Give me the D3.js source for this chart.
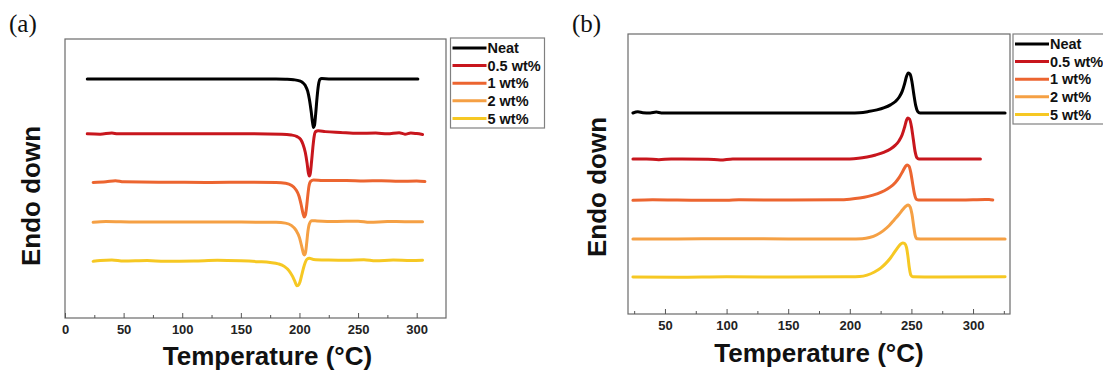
<!DOCTYPE html>
<html>
<head>
<meta charset="utf-8">
<script src="https://cdn.jsdelivr.net/npm/d3@7"></script>
<style>
  body { margin: 0; background: #fff; }
  svg { display: block; }
</style>
</head>
<body>
<script>
// DSC curves, two panels: (a) melting, (b) crystallization
const width = 1103;
const height = 374;

const seriesNames = ["Neat", "0.5 wt%", "1 wt%", "2 wt%", "5 wt%"];
const seriesColors = ["#000000", "#c8161d", "#ec6530", "#f5a044", "#f6c823"];

// x ticks
const majorTicksA = [0, 50, 100, 150, 200, 250, 300];
const minorTicksA = [25, 75, 125, 175, 225, 275];
const majorTicksB = [50, 100, 150, 200, 250, 300];
const minorTicksB = [25, 75, 125, 175, 225, 275, 325];

// panel (a) : [temperature, heat flow (a.u.)]
const neatA = [[19,85.7],[30,85.7],[60,85.7],[100,85.7],[150,85.7],[180,85.7],[188,85.6],[195,85.4],[200,85.0],[203,84.3],[205,83.3],[207,81.3],[208.5,78.3],[210,74],[211.2,70],[212,68.3],[212.8,69],[213.8,73],[215,79],[216.2,83.5],[217.5,85.5],[219,85.8],[225,85.7],[260,85.7],[301,85.7]];
const redA = [[19,66.0],[30,65.9],[40,66.3],[45,66.0],[80,66.0],[120,66.0],[160,66.0],[185,65.9],[193,65.6],[198,65],[201,64],[203,62.3],[205,59.3],[206.5,55.5],[207.6,52],[208.4,50.9],[209.3,52],[210.3,56],[211.4,61],[212.5,65],[213.8,66.8],[216,67.1],[222,66.8],[235,66.5],[250,66.2],[265,66.3],[275,66.0],[285,66.4],[290,65.9],[295,66.3],[300,66.1],[305,65.8]];
const orangeA = [[24,48.6],[35,48.8],[43,49.2],[50,48.8],[80,48.7],[120,48.6],[160,48.7],[180,48.6],[188,48.3],[193,47.6],[197,46],[199.5,43.8],[201.5,40.5],[203,37.5],[204,36.2],[205,36.8],[206,39.5],[207,43.5],[208,47],[209.5,49],[212,49.5],[220,49.3],[240,49.3],[255,49.1],[270,49.2],[285,49.0],[300,49.1],[307,48.9]];
const lightA = [[24,34.3],[35,34.6],[60,34.4],[100,34.4],[150,34.4],[180,34.3],[188,34.0],[193,33.2],[197,31.5],[200,28.8],[202,25.5],[203.5,23],[204.3,22.6],[205.2,23.5],[206.2,27],[207.2,31],[208.5,33.8],[210.5,34.9],[215,34.8],[230,34.6],[250,34.7],[260,34.3],[275,34.6],[290,34.5],[305,34.5]];
const yellowA = [[24,20.3],[30,20.6],[40,20.8],[50,20.4],[70,20.6],[85,20.3],[110,20.4],[130,20.7],[150,20.5],[165,20.2],[175,19.9],[182,19.4],[187,18.5],[191,17],[194,15],[196,13.2],[197.8,11.6],[199,11.7],[200.5,13],[202,15.5],[203.5,18],[205,20],[206.5,21.1],[208.5,21.4],[212,21.0],[225,20.8],[240,20.7],[255,20.9],[265,20.5],[280,20.8],[295,20.6],[305,20.7]];

// panel (b)
const neatB = [[24,71.8],[28,72.2],[32,71.9],[38,71.8],[43,72.1],[47,71.8],[80,71.8],[120,71.8],[160,71.8],[200,71.8],[208,71.9],[215,72.3],[222,72.9],[228,73.7],[233,74.7],[237,75.9],[240,77.4],[242.5,79.5],[244.5,82.3],[246,84.8],[247.5,86.1],[249,85.6],[250.5,82.8],[252,78.3],[253.5,74.4],[255,72.4],[257,71.8],[280,71.8],[326,71.8]];
const redB = [[24,55.4],[35,55.4],[45,55.1],[55,55.4],[85,55.3],[95,55.0],[105,55.4],[150,55.4],[200,55.4],[207,55.6],[214,56.1],[221,56.8],[228,57.8],[233,58.9],[237,60.3],[240,61.9],[242.5,64],[244.5,66.8],[246,69.2],[247,70],[248.5,69.6],[250,67],[251.5,62.5],[253,58],[254.5,55.8],[256,55.4],[280,55.4],[306,55.4]];
const orangeB = [[24,40.6],[40,40.8],[60,40.7],[100,40.6],[110,40.8],[150,40.7],[190,40.8],[200,41.0],[208,41.4],[215,42.0],[222,42.9],[228,44.0],[233,45.4],[237,47.0],[240,48.7],[243,51],[245,52.6],[246.5,53.2],[248,52.8],[249.5,50.5],[251,46.5],[252.5,42.8],[254,41.0],[256,40.7],[290,40.7],[310,40.9],[313,40.9],[316,40.7]];
const lightB = [[24,26.8],[60,26.8],[100,26.9],[150,26.8],[200,26.8],[210,26.9],[216,27.3],[222,28.3],[227,29.7],[232,31.6],[236,33.6],[240,35.6],[243,37.3],[245.5,38.5],[247.5,38.9],[249,38.2],[250.5,35.5],[251.8,31.5],[253,28.2],[254.5,26.9],[260,26.8],[326,26.8]];
const yellowB = [[24,13.2],[60,13.1],[100,13.3],[150,13.2],[200,13.3],[208,13.4],[214,13.9],[220,15.0],[225,16.4],[229,18.0],[233,20.0],[236,21.9],[239,23.8],[241,24.9],[243,25.4],[244.5,25.2],[246,23.8],[247.2,20.5],[248.3,16.5],[249.5,13.9],[251,13.3],[270,13.2],[326,13.3]];

const svg = d3.select("body").append("svg")
    .attr("width", width)
    .attr("height", height);

function drawPanel(p) {
    const x = d3.scaleLinear().domain(p.xDomain).range([p.left, p.right]);
    const y = d3.scaleLinear().domain([0, 100]).range([p.bottom, p.top]);

    const g = svg.append("g");

    // curves
    const line = d3.line()
        .x(d => x(d[0]))
        .y(d => y(d[1]))
        .curve(d3.curveMonotoneX);

    p.curves.forEach((c, i) => {
        g.append("path")
            .datum(c)
            .attr("fill", "none")
            .attr("stroke", seriesColors[i])
            .attr("stroke-width", 3)
            .attr("stroke-linejoin", "round")
            .attr("stroke-linecap", "round")
            .attr("d", line);
    });

    // frame
    g.append("rect")
        .attr("x", p.left).attr("y", p.top)
        .attr("width", p.right - p.left).attr("height", p.bottom - p.top)
        .attr("fill", "none")
        .attr("stroke", "#6a6a6a")
        .attr("stroke-width", 1.2);

    // x axis, ticks pointing inward
    g.append("g")
        .attr("transform", `translate(0,${p.bottom})`)
        .call(d3.axisBottom(x).tickValues(p.major).tickSize(-5).tickPadding(p.pad))
        .call(a => a.select(".domain").remove())
        .call(a => a.selectAll(".tick line").attr("stroke", "#555"))
        .call(a => a.selectAll(".tick text")
            .attr("font-family", "Arial, 'Liberation Sans', sans-serif")
            .attr("font-weight", "bold")
            .attr("font-size", 13)
            .attr("fill", "#222"));

    g.append("g")
        .attr("transform", `translate(0,${p.bottom})`)
        .call(d3.axisBottom(x).tickValues(p.minor).tickSize(-3).tickFormat(""))
        .call(a => a.select(".domain").remove())
        .call(a => a.selectAll(".tick line").attr("stroke", "#555"));

    // axis titles
    g.append("text")
        .attr("x", (p.left + p.right) / 2 + p.xTitleShift)
        .attr("y", p.xTitleY)
        .attr("text-anchor", "middle")
        .attr("font-family", "Arial, 'Liberation Sans', sans-serif")
        .attr("font-weight", "bold")
        .attr("font-size", 26)
        .attr("fill", "#111")
        .text("Temperature (°C)");

    g.append("text")
        .attr("transform", `translate(${p.yTitleX},${p.yTitleCY}) rotate(-90)`)
        .attr("text-anchor", "middle")
        .attr("font-family", "Arial, 'Liberation Sans', sans-serif")
        .attr("font-weight", "bold")
        .attr("font-size", 26)
        .attr("fill", "#111")
        .text("Endo down");

    // panel letter
    g.append("text")
        .attr("x", p.letterX).attr("y", 32)
        .attr("font-family", "'Liberation Serif', 'Times New Roman', serif")
        .attr("font-size", 25)
        .attr("fill", "#111")
        .text(p.letter);

    // legend
    const lg = g.append("g");
    lg.append("rect")
        .attr("x", p.legX).attr("y", p.legY)
        .attr("width", 94).attr("height", 90)
        .attr("fill", "#fff")
        .attr("stroke", "#808080")
        .attr("stroke-width", 1.2);
    seriesNames.forEach((name, i) => {
        const yy = p.legY + 10 + i * 17.6;
        lg.append("line")
            .attr("x1", p.legX + 2).attr("x2", p.legX + 36)
            .attr("y1", yy).attr("y2", yy)
            .attr("stroke", seriesColors[i])
            .attr("stroke-width", 3);
        lg.append("text")
            .attr("x", p.legX + 37).attr("y", yy)
            .attr("dy", "0.36em")
            .attr("font-family", "Arial, 'Liberation Sans', sans-serif")
            .attr("font-weight", "bold")
            .attr("font-size", 14.5)
            .attr("fill", "#111")
            .text(name);
    });
}

drawPanel({
    letter: "(a)", letterX: 9,
    left: 65, right: 446, top: 39, bottom: 318,
    xDomain: [0, 325],
    major: majorTicksA, minor: minorTicksA, pad: 7,
    curves: [neatA, redA, orangeA, lightA, yellowA],
    xTitleShift: 12, xTitleY: 365,
    yTitleX: 40, yTitleCY: 196,
    legX: 450.5, legY: 38
});

drawPanel({
    letter: "(b)", letterX: 572,
    left: 628, right: 1010, top: 34, bottom: 314,
    xDomain: [20, 330],
    major: majorTicksB, minor: minorTicksB, pad: 7,
    curves: [neatB, redB, orangeB, lightB, yellowB],
    xTitleShift: 0, xTitleY: 362,
    yTitleX: 606, yTitleCY: 187,
    legX: 1013, legY: 34
});
</script>
</body>
</html>
